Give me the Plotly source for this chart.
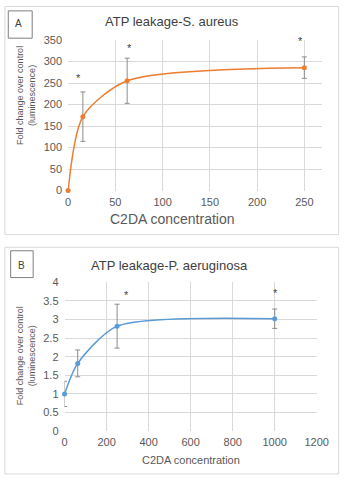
import plotly.graph_objects as go

W, H = 352, 481

# Panel A data (S. aureus)
conc_a = [0, 15.625, 62.5, 250]
fold_a = [0, 172, 255.5, 286]
err_a = [0, 57.5, 52.5, 25]
star_a_x = [11, 65.5, 246]
star_a_y = [263, 332, 349]

# Panel B data (P. aeruginosa)
conc_b = [0, 62.5, 250, 1000]
fold_b = [1.0, 1.82, 2.82, 3.02]
err_b = [0.34, 0.36, 0.59, 0.26]
star_b_x = [293, 1002]
star_b_y = [3.65, 3.71]

xticks_a = [0, 50, 100, 150, 200, 250]
yticks_a = [0, 50, 100, 150, 200, 250, 300, 350]
xticks_b = [0, 200, 400, 600, 800, 1000, 1200]
yticks_b = [0, 0.5, 1, 1.5, 2, 2.5, 3, 3.5, 4]

ORANGE = "#ED7D31"
BLUE = "#5B9BD5"
GRID = "#d9d9d9"
TXT = "#595959"
FONT = "Liberation Sans, Arial, sans-serif"


def px(x):
    return x / W


def py(y):
    return 1 - y / H


fig = go.Figure()

fig.add_trace(go.Scatter(
    x=conc_a, y=fold_a, mode="lines+markers",
    line=dict(color=ORANGE, width=1.5, shape="spline", smoothing=0.75),
    marker=dict(color=ORANGE, size=5),
    error_y=dict(type="data", array=err_a, visible=True, color="#8c8c8c", thickness=1, width=2.5),
    xaxis="x", yaxis="y", showlegend=False, cliponaxis=False,
))
fig.add_trace(go.Scatter(
    x=conc_b, y=fold_b, mode="lines+markers",
    line=dict(color=BLUE, width=1.5, shape="spline", smoothing=0.7),
    marker=dict(color=BLUE, size=5),
    error_y=dict(type="data", array=err_b, visible=True, color="#8c8c8c", thickness=1, width=2.5),
    xaxis="x2", yaxis="y2", showlegend=False, cliponaxis=False,
))

tickfont = dict(family=FONT, size=11, color=TXT)
axcommon = dict(showgrid=True, gridcolor=GRID, gridwidth=1, zeroline=False,
                showline=False, ticks="", tickfont=tickfont, fixedrange=True)

fig.update_layout(
    width=W, height=H,
    margin=dict(l=0, r=0, t=0, b=0),
    paper_bgcolor="white", plot_bgcolor="white",
    font=dict(family=FONT, color=TXT),
    xaxis=dict(domain=[px(68), px(333)], range=[0, 268.5], tickvals=xticks_a,
               anchor="y", **axcommon),
    yaxis=dict(domain=[py(189.3), py(35)], range=[0, 350], tickvals=yticks_a,
               anchor="x", **axcommon),
    xaxis2=dict(domain=[px(64.3), px(327.7)], range=[0, 1200], tickvals=xticks_b,
                anchor="y2", **axcommon),
    yaxis2=dict(domain=[py(436), py(283.3)], range=[0, 4], tickvals=yticks_b,
                anchor="x2", **axcommon),
)
fig.update_xaxes(ticklabelstandoff=3)
fig.update_yaxes(ticklabelstandoff=5)

shapes = [
    # panel frames
    dict(type="rect", xref="paper", yref="paper", x0=px(2), x1=px(350.5), y0=py(234.5), y1=py(0.5),
         line=dict(color=GRID, width=1), layer="below"),
    dict(type="rect", xref="paper", yref="paper", x0=px(2), x1=px(350.5), y0=py(480), y1=py(247.5),
         line=dict(color=GRID, width=1), layer="below"),
    # label boxes
    dict(type="rect", xref="paper", yref="paper", x0=px(5.5), x1=px(30.5), y0=py(33), y1=py(5),
         line=dict(color="#7f7f7f", width=1)),
    dict(type="rect", xref="paper", yref="paper", x0=px(8), x1=px(31.5), y0=py(278.5), y1=py(251),
         line=dict(color="#7f7f7f", width=1)),
]

annotations = []


def ann(text, x, y, size, color="#404040", angle=0, xref="paper", yref="paper"):
    annotations.append(dict(text=text, x=x, y=y, xref=xref, yref=yref, showarrow=False,
                            xanchor="center", yanchor="middle", textangle=angle,
                            font=dict(family=FONT, size=size, color=color)))


ann("A", px(16), py(18), 10, "#404040")
ann("B", px(19.5), py(266), 10, "#404040")
ann("ATP leakage-S. aureus", px(176.5), py(16), 13, "#404040")
ann("ATP leakage-P. aeruginosa", px(174), py(266), 13, "#404040")
ann("C2DA concentration", px(177.5), py(218), 14, TXT)
ann("C2DA concentration", px(196.5), py(466), 11, TXT)
ann("Fold change over control", px(18.5), py(91.5), 9, TXT, -90)
ann("(luminescence)", px(31), py(91.5), 9, TXT, -90)
ann("Fold change over control", px(18), py(359), 9, TXT, -90)
ann("(luminescence)", px(30.5), py(359), 9, TXT, -90)

for sx, sy in zip(star_a_x, star_a_y):
    annotations.append(dict(text="*", x=sx, y=sy, xref="x", yref="y", showarrow=False,
                            yanchor="middle", font=dict(family=FONT, size=11, color="#404040")))
for sx, sy in zip(star_b_x, star_b_y):
    annotations.append(dict(text="*", x=sx, y=sy, xref="x2", yref="y2", showarrow=False,
                            yanchor="middle", font=dict(family=FONT, size=11, color="#404040")))

fig.update_layout(shapes=shapes, annotations=annotations)

fig.write_html("out.html")
